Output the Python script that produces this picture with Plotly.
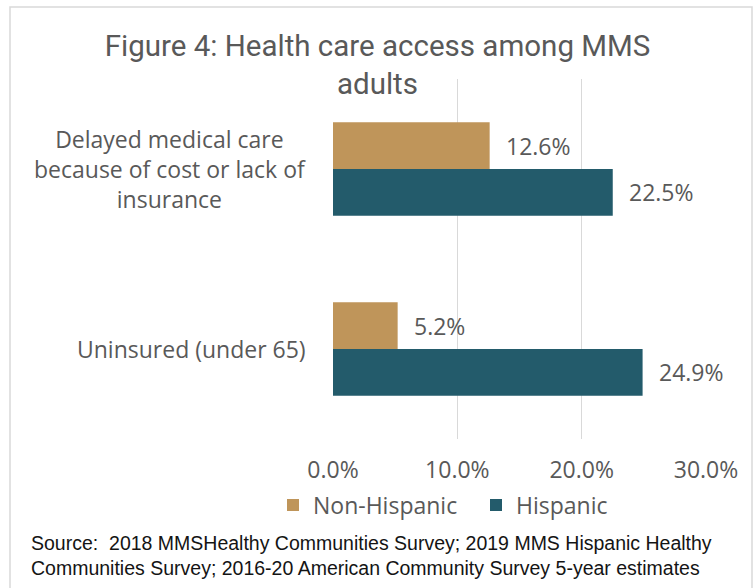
import plotly.graph_objects as go

# Chart data
categories = [
    "Delayed medical care<br>because of cost or lack of<br>insurance",
    "Uninsured (under 65)",
]
series_names = ["Non-Hispanic", "Hispanic"]
non_hispanic = [12.6, 5.2]
hispanic = [22.5, 24.9]
x_ticks = [0, 10, 20, 30]
x_tick_labels = ["0.0%", "10.0%", "20.0%", "30.0%"]

colors = {"Non-Hispanic": "#BF955A", "Hispanic": "#235B6B"}
text_gray = "#595959"
label_font = "Open Sans, Noto Sans, sans-serif"
label_size = 23

W, H = 755, 588
ML, MR, MT, MB = 333, 49, 79, 149
PW, PH = W - ML - MR, H - MT - MB
BARGAP = 0.48


def px_x(px):
    return (px - ML) / PW


def px_y(py):
    return (H - MB - py) / PH


fig = go.Figure()
for name, vals in zip(series_names, [non_hispanic, hispanic]):
    fig.add_trace(go.Bar(
        y=categories, x=vals, orientation="h", name=name,
        marker=dict(color=colors[name], line=dict(width=0)),
    ))

annotations = []
# value labels just past the end of each bar (bar centres sit a quarter
# of the group width either side of the category)
half_bar = (1 - BARGAP) / 4
for i, (name, vals) in enumerate(zip(series_names, [non_hispanic, hispanic])):
    offset = -half_bar if i == 0 else half_bar
    for c, v in enumerate(vals):
        annotations.append(dict(
            x=v, y=c + offset, xref="x", yref="y", yanchor="middle",
            text=f"{v:.1f}%", showarrow=False, xanchor="left", xshift=14,
            font=dict(family=label_font, size=label_size, color=text_gray),
        ))

# category labels to the left of the axis
for c, cat in enumerate(categories):
    annotations.append(dict(
        x=0, y=c, xref="paper", yref="y", text=cat, showarrow=False,
        xanchor="right", xshift=-25, align="center",
        font=dict(family=label_font, size=label_size, color=text_gray),
    ))

# source note
annotations.append(dict(
    x=px_x(29), y=px_y(555), xref="paper", yref="paper", xanchor="left",
    yanchor="middle", align="left", showarrow=False,
    text=("Source:  2018 MMSHealthy Communities Survey; 2019 MMS Hispanic Healthy"
          "<br>Communities Survey; 2016-20 American Community Survey 5-year estimates"),
    font=dict(family="Liberation Sans, Arial, sans-serif", size=19.5, color="#141414"),
))

fig.update_layout(
    width=W, height=H,
    margin=dict(l=ML, r=MR, t=MT, b=MB),
    paper_bgcolor="white", plot_bgcolor="white",
    barmode="group", bargap=BARGAP, bargroupgap=0,
    title=dict(
        text="Figure 4: Health care access among MMS<br>adults",
        x=0.5, xanchor="center", xref="container", y=1 - 56 / H, yanchor="middle",
        font=dict(family="Roboto, sans-serif", size=29.5, color=text_gray),
    ),
    xaxis=dict(
        range=[0, 30], tickvals=x_ticks, ticktext=x_tick_labels,
        showgrid=True, gridcolor="#D9D9D9", gridwidth=1, zeroline=False,
        showline=False, ticks="outside", ticklen=10, tickcolor="rgba(0,0,0,0)",
        tickfont=dict(family=label_font, size=label_size, color=text_gray),
    ),
    yaxis=dict(
        autorange="reversed", showticklabels=False, showgrid=False,
        zeroline=False, showline=False,
    ),
    legend=dict(
        orientation="h", x=px_x(273), y=px_y(505), xanchor="left",
        yanchor="middle", font=dict(family=label_font, size=label_size, color=text_gray),
        itemwidth=30, traceorder="normal",
        entrywidth=158, entrywidthmode="pixels",
    ),
    annotations=annotations,
    shapes=[dict(
        type="rect", xref="paper", yref="paper",
        x0=px_x(10), x1=px_x(752), y0=px_y(600), y1=px_y(7),
        line=dict(color="#D9D9D9", width=1.5), fillcolor="rgba(0,0,0,0)",
        layer="below",
    )],
)

fig.write_html("out.html")
